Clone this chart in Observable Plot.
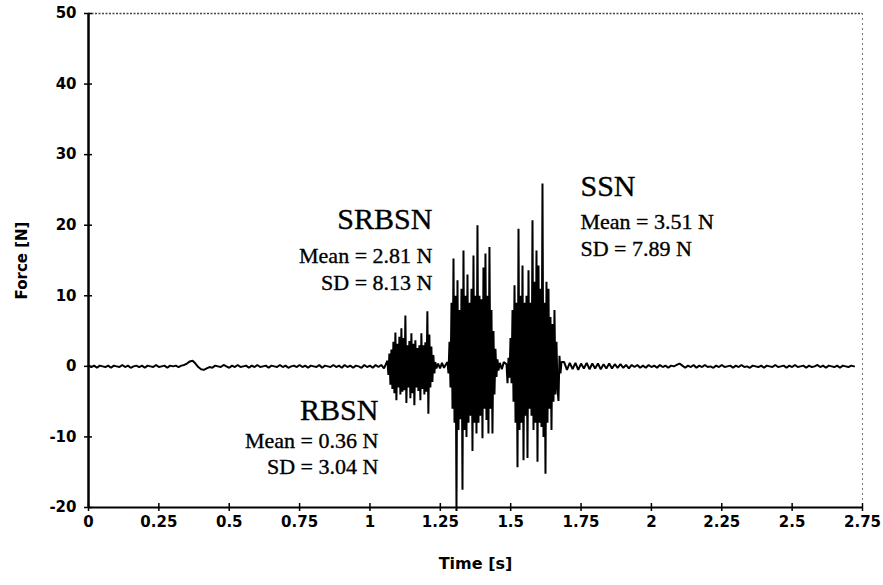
<!DOCTYPE html>
<html>
<head>
<meta charset="utf-8">
<script src="https://cdn.jsdelivr.net/npm/d3@7"></script>
<script src="https://cdn.jsdelivr.net/npm/@observablehq/plot@0.6"></script>
<style>
  html, body { margin: 0; padding: 0; background: #fff; }
</style>
</head>
<body>
<div id="chart"></div>
<script>
// ---- Data ----
const xTicks = [0, 0.25, 0.5, 0.75, 1, 1.25, 1.5, 1.75, 2, 2.25, 2.5, 2.75];
const yTicks = [-20, -10, 0, 10, 20, 30, 40, 50];

// quiet baseline before the first burst, sampled every 0.01 s from t = 0
const baselineAStart = 0, baselineAStep = 0.01;
const baselineA = [
  0.1,-0.1,0.1,-0.2,0.1,0,-0.1,0.1,-0.2,0.1,
  0,-0.1,0.2,-0.1,0.1,-0.2,0,0.1,-0.1,0.1,
  -0.2,0.1,0,-0.1,0.2,-0.1,0,0.1,-0.2,0.1,
  0,0.1,-0.1,0.1,0.2,0.4,0.7,0.8,0.4,-0.1,
  -0.4,-0.5,-0.3,-0.1,-0.2,0.1,0,-0.1,0.2,0,
  -0.2,0.1,-0.1,0.2,-0.1,0,0.1,-0.2,0.1,-0.1,
  0.2,-0.1,0,0.1,-0.2,0.1,0,-0.1,0.2,-0.1,
  0.1,-0.2,0,0.1,-0.1,0.2,-0.1,0.1,-0.2,0.1,
  0,-0.1,0.2,-0.2,0.1,0,-0.1,0.2,-0.1,0.1,
  -0.2,0.2,-0.1,0.1,-0.2,0.1,0,-0.2,0.2,-0.1,
  0.1,-0.2,0.2,-0.1,0.2,-0.3
];

// RBSN burst
const burstStep = 0.00355;
const burst1Start = 1.062;
const burst1 = [
  0.8,-1.2,1.8,-2.6,2.4,-3.2,3.5,-3.8,4.8,-4.8,
  3.2,-3.0,4.2,-4.0,5.4,-3.6,4.0,-3.4,7.2,-5.2,
  3.0,-3.0,3.6,-4.5,4.7,-3.8,3.2,-5.5,3.7,-3.0,
  2.6,-3.5,3.0,-4.8,4.7,-3.2,3.0,-4.0,3.4,-3.6,
  7.8,-6.7,4.5,-3.0,2.8,-2.2,1.6,-1.0,0.6,-0.3
];

const gapStep = 0.007;
const gap1Start = 1.242;
const gap1 = [0.4,-0.3,0.5,-0.2,0.3];

// SRBSN burst
const burst2Start = 1.2755;
const burst2 = [
  0.6,-1.0,3.5,-3.0,9.0,-6.0,15.3,-8.0,10.0,-20.5,
  12.2,-9.0,8.0,-7.5,11.0,-17.5,16.4,-9.0,10.0,-10.0,
  13.0,-8.0,9.0,-7.0,11.0,-12.0,15.7,-8.0,10.0,-9.5,
  20.0,-8.0,10.0,-7.0,9.5,-10.2,14.0,-6.0,16.0,-7.6,
  10.0,-9.5,16.9,-6.0,8.0,-9.5,5.0,-4.0,2.5,-1.5,
  1.0,-0.6
];

const gap2Start = 1.4615;
const gap2 = [0.5,-0.4,0.6];

// SSN burst
const burst3Start = 1.4852;
const burst3 = [
  0.3,-2.4,1.2,-1.6,4.0,-2.4,8.0,-5.0,11.5,-8.0,
  9.0,-14.3,19.5,-9.0,10.0,-8.0,14.3,-13.3,9.0,-7.0,
  10.0,-13.0,13.6,-6.0,9.0,-7.0,20.7,-9.0,12.0,-8.0,
  16.4,-13.5,14.3,-8.0,11.0,-8.6,25.9,-10.0,9.0,-15.2,
  12.0,-8.0,11.0,-6.0,7.0,-9.0,6.0,-5.0,8.0,-4.0,
  3.5,-3.0,-4.9,1.5,-1.0,0.6
];

// quiet baseline after the last burst
const baselineBStart = 1.69, baselineBStep = 0.01;
const baselineB = [
  0.6,-0.5,0.5,-0.4,0.5,-0.5,0.4,-0.3,0.5,-0.4,
  0.4,-0.3,0.4,-0.4,0.3,-0.3,0.4,-0.3,0.3,-0.2,
  0.3,-0.2,0.2,-0.3,0.2,-0.1,0.2,-0.2,0.1,-0.2,
  0.2,-0.1,0.1,-0.2,0.2,-0.1,0.1,-0.2,0.1,0,
  0.2,0.4,0.1,-0.2,0.1,-0.1,0.2,-0.2,0.1,-0.1,
  0.2,-0.1,0,-0.2,0.1,-0.1,0.2,-0.1,0,0.1,
  -0.2,0.1,-0.1,0.2,-0.1,0,-0.2,0.1,0,-0.1,
  0.1,-0.2,0.1,0,-0.1,0.2,-0.1,0,0.1,-0.2,
  0.1,-0.1,0.2,-0.1,0,0.1,-0.2,0.1,-0.1,0,
  0.2,-0.1,0.1,-0.2,0.1,0,-0.1,0.1,-0.2,0.1,
  0,-0.1,0.1,0
];

const annotations = [
  {name: "SRBSN", mean: "Mean = 2.81 N", sd: "SD = 8.13 N"},
  {name: "SSN",   mean: "Mean = 3.51 N", sd: "SD = 7.89 N"},
  {name: "RBSN",  mean: "Mean = 0.36 N", sd: "SD = 3.04 N"}
];

// ---- Build the time series table ----
function seg(start, step, vals) { return vals.map((v, i) => ({t: start + i * step, v})); }
const signal = [].concat(
  seg(baselineAStart, baselineAStep, baselineA),
  seg(burst1Start, burstStep, burst1),
  seg(gap1Start, gapStep, gap1),
  seg(burst2Start, burstStep, burst2),
  seg(gap2Start, gapStep, gap2),
  seg(burst3Start, burstStep, burst3),
  seg(baselineBStart, baselineBStep, baselineB)
);

const serif = "'Liberation Serif', 'Times New Roman', serif";
const sans = "'DejaVu Sans', sans-serif";
const titleSize = 30, statSize = 22;
const ink = {fontFamily: serif, fontWeight: "normal", fill: "#000", stroke: "#000", strokeWidth: 0.35};

const plot = Plot.plot({
  width: 883,
  height: 585,
  marginLeft: 88,
  marginRight: 21,
  marginTop: 13,
  marginBottom: 78,
  x: {domain: [0, 2.75]},
  y: {domain: [-20, 50]},
  style: {fontFamily: sans, fontSize: "15px", fontWeight: "bold", color: "#000", background: "#fff"},
  marks: [
    // faint frame top & right
    Plot.ruleY([50], {stroke: "#444", strokeWidth: 1.3, strokeDasharray: "2,1.5"}),
    Plot.ruleX([2.75], {stroke: "#777", strokeWidth: 1, strokeDasharray: "2,3"}),
    // signal
    Plot.line(signal, {x: "t", y: "v", stroke: "#000", strokeWidth: 2, strokeLinejoin: "miter"}),
    // axis lines
    Plot.ruleY([-20], {stroke: "#000", strokeWidth: 2}),
    Plot.ruleX([0], {stroke: "#000", strokeWidth: 2.5}),
    // ticks crossing the axes
    Plot.ruleX(xTicks, {x: d => d, y1: -20, y2: -20, insetTop: -4, insetBottom: -4, stroke: "#000", strokeWidth: 1.5}),
    Plot.ruleY(yTicks, {y: d => d, x1: 0, x2: 0, insetLeft: -4, insetRight: -4, stroke: "#000", strokeWidth: 1.5}),
    // tick labels
    Plot.axisX(xTicks, {tickSize: 0, tickPadding: 9, tickFormat: d => String(d), label: null}),
    Plot.axisY(yTicks, {tickSize: 0, tickPadding: 12, tickFormat: d => String(d), label: null}),
    // axis titles
    Plot.text(["Time [s]"], {frameAnchor: "bottom", textAnchor: "middle", dy: 61, fontSize: 16, fontWeight: "bold", fontFamily: sans}),
    Plot.text(["Force [N]"], {frameAnchor: "left", textAnchor: "middle", dx: -66, rotate: -90, fontSize: 15, fontWeight: "bold", fontFamily: sans}),
    // annotations
    Plot.text([annotations[0].name], {x: 1.222, y: 20.8, textAnchor: "end", fontSize: titleSize, ...ink}),
    Plot.text([annotations[0].mean], {x: 1.222, y: 15.7, textAnchor: "end", fontSize: statSize, ...ink}),
    Plot.text([annotations[0].sd], {x: 1.222, y: 11.85, textAnchor: "end", fontSize: statSize, ...ink}),
    Plot.text([annotations[1].name], {x: 1.748, y: 25.5, textAnchor: "start", fontSize: titleSize, ...ink}),
    Plot.text([annotations[1].mean], {x: 1.748, y: 20.4, textAnchor: "start", fontSize: statSize, ...ink}),
    Plot.text([annotations[1].sd], {x: 1.748, y: 16.7, textAnchor: "start", fontSize: statSize, ...ink}),
    Plot.text([annotations[2].name], {x: 1.030, y: -6.3, textAnchor: "end", fontSize: titleSize, ...ink}),
    Plot.text([annotations[2].mean], {x: 1.030, y: -10.55, textAnchor: "end", fontSize: statSize, ...ink}),
    Plot.text([annotations[2].sd], {x: 1.030, y: -14.2, textAnchor: "end", fontSize: statSize, ...ink})
  ]
});
document.getElementById("chart").appendChild(plot);
</script>
</body>
</html>
